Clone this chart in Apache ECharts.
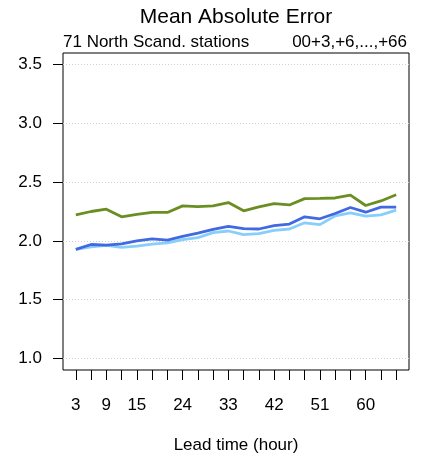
<!DOCTYPE html>
<html>
<head>
<meta charset="utf-8">
<script src="https://cdn.jsdelivr.net/npm/echarts@6/dist/echarts.min.js"></script>
<style>
  html, body { margin: 0; padding: 0; background: #fff; }
  #chart { width: 426px; height: 459px; }
</style>
</head>
<body>
<div id="chart"></div>
<script>
// Lead times (hours) and mean absolute error per model
const leadTimes = [3, 6, 9, 12, 15, 18, 21, 24, 27, 30, 33, 36, 39, 42, 45, 48, 51, 54, 57, 60, 63, 66];
const maeGreen = [2.222, 2.250, 2.270, 2.205, 2.225, 2.242, 2.242, 2.298, 2.292, 2.298, 2.326, 2.256,
                  2.289, 2.317, 2.306, 2.360, 2.362, 2.365, 2.390, 2.301, 2.340, 2.393];
const maeBlue = [1.927, 1.969, 1.963, 1.975, 2.000, 2.017, 2.006, 2.039, 2.065, 2.098, 2.124, 2.104,
                 2.101, 2.129, 2.143, 2.205, 2.188, 2.233, 2.284, 2.244, 2.287, 2.287];
const maeLightBlue = [1.927, 1.949, 1.961, 1.944, 1.955, 1.972, 1.983, 2.011, 2.028, 2.070, 2.084, 2.053,
                      2.062, 2.090, 2.101, 2.154, 2.138, 2.213, 2.239, 2.211, 2.222, 2.261];
const xLabelTicks = [3, 9, 15, 24, 33, 42, 51, 60];
const yTicks = [1.0, 1.5, 2.0, 2.5, 3.0, 3.5];

const pairs = (ys) => leadTimes.map((x, i) => [x, ys[i]]);
const FONT = 'Liberation Sans, Arial, sans-serif';

const chart = echarts.init(document.getElementById('chart'), null, { renderer: 'canvas' });
chart.setOption({
  animation: false,
  backgroundColor: '#ffffff',
  textStyle: { fontFamily: FONT },
  title: [
    { text: 'Mean Absolute Error', left: 236, top: 7, padding: 0, textAlign: 'center',
      textStyle: { fontFamily: FONT, fontSize: 21, fontWeight: 'normal', color: '#000' } },
    { text: '71 North Scand. stations', left: 63, top: 34, padding: 0,
      textStyle: { fontFamily: FONT, fontSize: 17, fontWeight: 'normal', color: '#000' } },
    { text: '00+3,+6,...,+66', right: 19, top: 34, padding: 0,
      textStyle: { fontFamily: FONT, fontSize: 17, fontWeight: 'normal', color: '#000' } }
  ],
  grid: {
    left: 63, right: 17, top: 53, bottom: 86,
    show: true, borderColor: '#000', borderWidth: 1, backgroundColor: 'transparent'
  },
  xAxis: {
    type: 'value', min: 0.48, max: 68.52,
    name: 'Lead time (hour)', nameLocation: 'middle', nameGap: 67,
    nameTextStyle: { fontFamily: FONT, fontSize: 17, color: '#000' },
    axisLine: { show: false },
    axisTick: { show: true, inside: false, length: 10, customValues: leadTimes,
                lineStyle: { color: '#000', width: 1 } },
    axisLabel: { customValues: xLabelTicks, margin: 27, fontFamily: FONT, fontSize: 17, color: '#000' },
    splitLine: { show: false }
  },
  yAxis: {
    type: 'value', min: 0.9, max: 3.6,
    axisLine: { show: false },
    axisTick: { show: true, inside: false, length: 10, customValues: yTicks,
                lineStyle: { color: '#000', width: 1 } },
    axisLabel: { customValues: yTicks, margin: 21, fontFamily: FONT, fontSize: 17, color: '#000',
                 formatter: (v) => v.toFixed(1) },
    splitLine: { show: true, lineStyle: { color: '#d0d0d0', type: [1, 2], width: 1 } }
  },
  series: [
    { type: 'line', data: pairs(maeGreen), symbol: 'none', lineStyle: { color: '#6b8e23', width: 2.8 } },
    { type: 'line', data: pairs(maeLightBlue), symbol: 'none', lineStyle: { color: '#87cefa', width: 2.8 } },
    { type: 'line', data: pairs(maeBlue), symbol: 'none', lineStyle: { color: '#4169e1', width: 2.8 } }
  ]
});
</script>
</body>
</html>
